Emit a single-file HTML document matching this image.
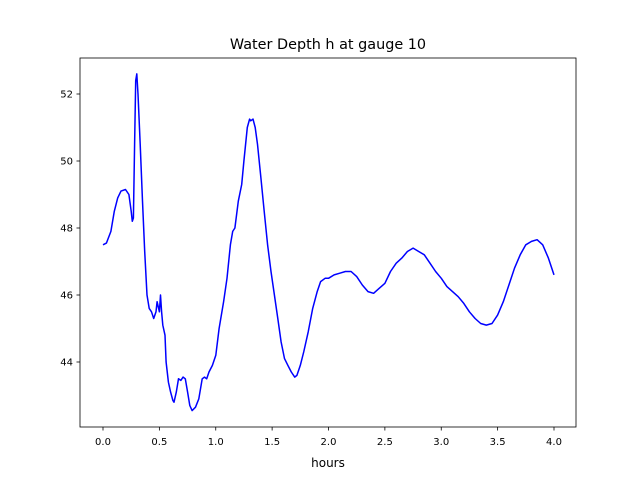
<!DOCTYPE html>
<html><head><meta charset="utf-8"><style>
body{margin:0;background:#fff;}
svg text{font-family:"DejaVu Sans","Liberation Sans",sans-serif;}
</style></head><body>
<svg id="chart" width="640" height="480" viewBox="0 0 640 480">
<rect width="640" height="480" fill="#fff"/>
<text x="328" y="49" font-size="14.4" text-anchor="middle">Water Depth h at gauge 10</text>
<g id="ticks"></g>
<polyline id="line" fill="none" stroke="#0000ff" stroke-width="1.5" stroke-linejoin="round"/>
<rect x="80" y="58" width="496" height="369" fill="none" stroke="#000" stroke-width="0.8"/>
<text x="328" y="467" font-size="12" text-anchor="middle">hours</text>
</svg>
<script>
const times=[0.0,0.03,0.07,0.1,0.13,0.16,0.2,0.23,0.25,0.26,0.27,0.28,0.29,0.30,0.31,0.33,0.35,0.37,0.39,0.41,0.43,0.45,0.47,0.48,0.5,0.51,0.52,0.53,0.55,0.56,0.58,0.6,0.62,0.63,0.65,0.67,0.69,0.71,0.73,0.75,0.77,0.79,0.82,0.85,0.88,0.9,0.92,0.94,0.97,1.0,1.03,1.07,1.1,1.13,1.15,1.17,1.2,1.23,1.25,1.28,1.3,1.31,1.33,1.35,1.37,1.4,1.43,1.46,1.49,1.52,1.55,1.58,1.61,1.64,1.67,1.7,1.72,1.75,1.78,1.82,1.86,1.9,1.93,1.97,2.0,2.05,2.1,2.15,2.2,2.25,2.3,2.35,2.4,2.45,2.5,2.55,2.6,2.65,2.7,2.75,2.8,2.85,2.9,2.95,3.0,3.05,3.1,3.15,3.2,3.25,3.3,3.35,3.4,3.45,3.5,3.55,3.6,3.65,3.7,3.75,3.8,3.85,3.9,3.95,4.0];
const depths=[47.5,47.55,47.9,48.5,48.9,49.1,49.15,49.0,48.5,48.2,48.3,50.5,52.4,52.6,52.0,50.5,48.8,47.3,46.0,45.6,45.5,45.3,45.5,45.8,45.5,46.0,45.5,45.1,44.8,44.0,43.4,43.1,42.85,42.8,43.1,43.5,43.45,43.55,43.5,43.1,42.7,42.55,42.65,42.9,43.5,43.55,43.5,43.7,43.9,44.2,45.0,45.8,46.5,47.5,47.9,48.0,48.8,49.3,50.0,51.0,51.25,51.2,51.25,51.0,50.5,49.5,48.5,47.5,46.7,46.0,45.3,44.6,44.1,43.9,43.7,43.55,43.6,43.9,44.3,44.9,45.6,46.1,46.4,46.5,46.5,46.6,46.65,46.7,46.7,46.55,46.3,46.1,46.05,46.2,46.35,46.7,46.95,47.1,47.3,47.4,47.3,47.2,46.95,46.7,46.5,46.25,46.1,45.95,45.75,45.5,45.3,45.15,45.1,45.15,45.4,45.8,46.3,46.8,47.2,47.5,47.6,47.65,47.5,47.1,46.6];
const xTicks=[0,0.5,1,1.5,2,2.5,3,3.5,4];
const xTickLabels=["0.0","0.5","1.0","1.5","2.0","2.5","3.0","3.5","4.0"];
const yTicks=[44,46,48,50,52];
const yTickLabels=["44","46","48","50","52"];
const xs=t=>103+t*112.75;
const ys=h=>94+(52-h)*33.5;
const NS="http://www.w3.org/2000/svg";
const g=document.getElementById('ticks');
function mk(tag,attrs,parent){const e=document.createElementNS(NS,tag);for(const k in attrs)e.setAttribute(k,attrs[k]);parent.appendChild(e);return e;}
xTicks.forEach((t,i)=>{
  const l=mk('line',{x1:xs(t),x2:xs(t),y1:427,y2:430.5,stroke:'#000','stroke-width':0.8},g);
  
  
  const tx=mk('text',{x:xs(t),y:445,'font-size':10,'text-anchor':'middle'},g);
  tx.textContent=xTickLabels[i];
  
  
});
yTicks.forEach((h,i)=>{
  const l=mk('line',{x1:76.5,x2:80,y1:ys(h),y2:ys(h),stroke:'#000','stroke-width':0.8},g);
  
  
  const tx=mk('text',{x:73,y:ys(h)+3.5,'font-size':10,'text-anchor':'end'},g);
  tx.textContent=yTickLabels[i];
  
  
});
document.getElementById('line').setAttribute('points',times.map((t,i)=>xs(t).toFixed(1)+','+ys(depths[i]).toFixed(1)).join(' '));
</script>
</body></html>
